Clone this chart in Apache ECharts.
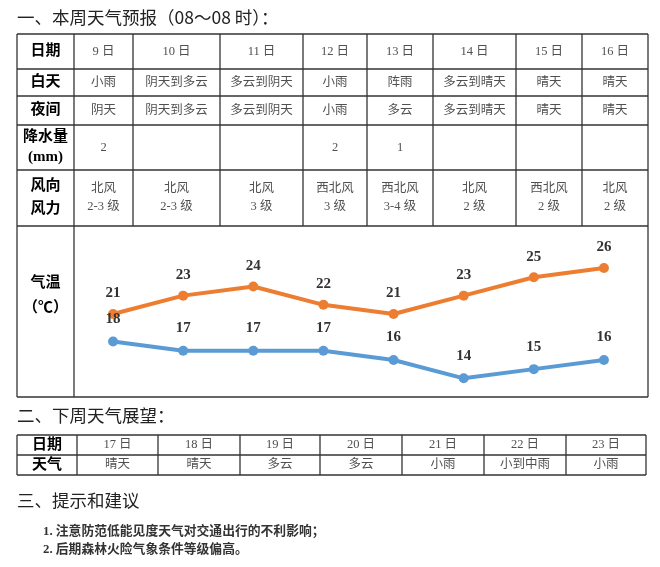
<!DOCTYPE html>
<html><head><meta charset="utf-8">
<script src="https://cdn.jsdelivr.net/npm/echarts@6/dist/echarts.min.js"></script>
<style>html,body{margin:0;padding:0;background:#fff}#c{width:660px;height:567px}</style>
</head><body><div id="c"></div>
<script>
// ---- data ----
const days = ['9 日','10 日','11 日','12 日','13 日','14 日','15 日','16 日'];
const dayWeather = ['小雨','阴天到多云','多云到阴天','小雨','阵雨','多云到晴天','晴天','晴天'];
const nightWeather = ['阴天','阴天到多云','多云到阴天','小雨','多云','多云到晴天','晴天','晴天'];
const precipitation = ['2','','','2','1','','',''];
const windDirection = ['北风','北风','北风','西北风','西北风','北风','西北风','北风'];
const windForce = ['2-3 级','2-3 级','3 级','3 级','3-4 级','2 级','2 级','2 级'];
const highTemp = [21,23,24,22,21,23,25,26];
const lowTemp = [18,17,17,17,16,14,15,16];
const rowHeaders = ['日期','白天','夜间','降水量\n(mm)','风向\n风力','气温\n（℃）'];
const nextDays = ['17 日','18 日','19 日','20 日','21 日','22 日','23 日'];
const nextWeather = ['晴天','晴天','多云','多云','小雨','小到中雨','小雨'];
const nextHeaders = ['日期','天气'];
const titles = ['一、本周天气预报（08～08 时）：','二、下周天气展望：','三、提示和建议'];
const tips = ['1. 注意防范低能见度天气对交通出行的不利影响；','2. 后期森林火险气象条件等级偏高。'];

// ---- layout ----
const T1x = [17,74,133,220,303,367,433,516,582,648];
const T1y = [34,69,96,125,170,226,397];
const T2x = [17,77,158,240,320,402,484,566,646];
const T2y = [435,455,475];
const LINE = '#333';
const HEAD_FONT = 'bold 15px "Liberation Serif","Noto Sans CJK SC",sans-serif';
const CELL_FONT = '12.5px "Liberation Serif","Noto Sans CJK SC",serif';
const CELL_COLOR = '#505050';
const TITLE_FONT = '17.5px "Noto Sans CJK SC",sans-serif';

const g = [];
function hl(x1,x2,y,w){g.push({type:'line',shape:{x1:x1,y1:y,x2:x2,y2:y},style:{stroke:LINE,lineWidth:w||1.3},silent:true});}
function vl(x,y1,y2,w){g.push({type:'line',shape:{x1:x,y1:y1,x2:x,y2:y2},style:{stroke:LINE,lineWidth:w||1.3},silent:true});}
function tx(t,x,y,font,color,lh,align){g.push({type:'text',style:{text:t,x:x,y:y,font:font,fill:color,
  align:align||'center',verticalAlign:'middle',textAlign:align||'center',textVerticalAlign:'middle',lineHeight:lh||16},silent:true});}

// titles
tx(titles[0],17,17,TITLE_FONT,'#222',20,'left');
tx(titles[1],17,415,TITLE_FONT,'#222',20,'left');
tx(titles[2],17,500,TITLE_FONT,'#222',20,'left');
tips.forEach((t,i)=>tx(t,43,532+i*18,'bold 12.8px "Liberation Serif","Noto Sans CJK SC",serif','#333',16,'left'));

// table 1 grid
T1y.forEach(y=>hl(T1x[0],T1x[T1x.length-1],y));
T1x.forEach((x,i)=>{ if(i===0||i===1||i===T1x.length-1) vl(x,T1y[0],T1y[T1y.length-1]); else vl(x,T1y[0],T1y[5]); });
// row headers
const hx = (T1x[0]+T1x[1])/2;
tx(rowHeaders[0],hx,(T1y[0]+T1y[1])/2,HEAD_FONT,'#000');
tx(rowHeaders[1],hx,(T1y[1]+T1y[2])/2,HEAD_FONT,'#000');
tx(rowHeaders[2],hx,(T1y[2]+T1y[3])/2,HEAD_FONT,'#000');
tx(rowHeaders[3],hx,(T1y[3]+T1y[4])/2,HEAD_FONT,'#000',20);
tx(rowHeaders[4],hx,(T1y[4]+T1y[5])/2,HEAD_FONT,'#000',23);
tx(rowHeaders[5],hx,296,HEAD_FONT,'#000',25);
// cells
days.forEach((d,i)=>{
  const cx=(T1x[i+1]+T1x[i+2])/2;
  tx(d,cx,(T1y[0]+T1y[1])/2,CELL_FONT,CELL_COLOR);
  tx(dayWeather[i],cx,(T1y[1]+T1y[2])/2,CELL_FONT,CELL_COLOR);
  tx(nightWeather[i],cx,(T1y[2]+T1y[3])/2,CELL_FONT,CELL_COLOR);
  if(precipitation[i]) tx(precipitation[i],cx,(T1y[3]+T1y[4])/2,CELL_FONT,CELL_COLOR);
  tx(windDirection[i]+'\n'+windForce[i],cx,(T1y[4]+T1y[5])/2,CELL_FONT,CELL_COLOR,18);
});

// table 2 grid
T2y.forEach(y=>hl(T2x[0],T2x[T2x.length-1],y));
T2x.forEach(x=>vl(x,T2y[0],T2y[2]));
const hx2=(T2x[0]+T2x[1])/2;
tx(nextHeaders[0],hx2,(T2y[0]+T2y[1])/2,HEAD_FONT,'#000');
tx(nextHeaders[1],hx2,(T2y[1]+T2y[2])/2,HEAD_FONT,'#000');
nextDays.forEach((d,i)=>{
  const cx=(T2x[i+1]+T2x[i+2])/2;
  tx(d,cx,(T2y[0]+T2y[1])/2,CELL_FONT,CELL_COLOR);
  tx(nextWeather[i],cx,(T2y[1]+T2y[2])/2,CELL_FONT,CELL_COLOR);
});

const chart = echarts.init(document.getElementById('c'),null,{renderer:'canvas'});
const labelFont = {fontFamily:'"Liberation Serif",serif',fontWeight:'bold',fontSize:15,color:'#333'};
chart.setOption({
  animation:false,
  backgroundColor:'#fff',
  grid:{left:78,right:21,top:249.7,bottom:170.3},
  xAxis:{type:'category',data:days,boundaryGap:true,show:false},
  yAxis:{type:'value',min:12,max:28,show:false,splitLine:{show:false}},
  series:[
    {name:'最高气温',type:'line',data:highTemp,symbol:'circle',symbolSize:10,
     lineStyle:{color:'#ED7D31',width:4},itemStyle:{color:'#ED7D31'},
     label:Object.assign({show:true,position:'top',distance:8},labelFont)},
    {name:'最低气温',type:'line',data:lowTemp,symbol:'circle',symbolSize:10,
     lineStyle:{color:'#5B9BD5',width:4},itemStyle:{color:'#5B9BD5'},
     label:Object.assign({show:true,position:'top',distance:10},labelFont)}
  ],
  graphic:{elements:g}
});
</script></body></html>
